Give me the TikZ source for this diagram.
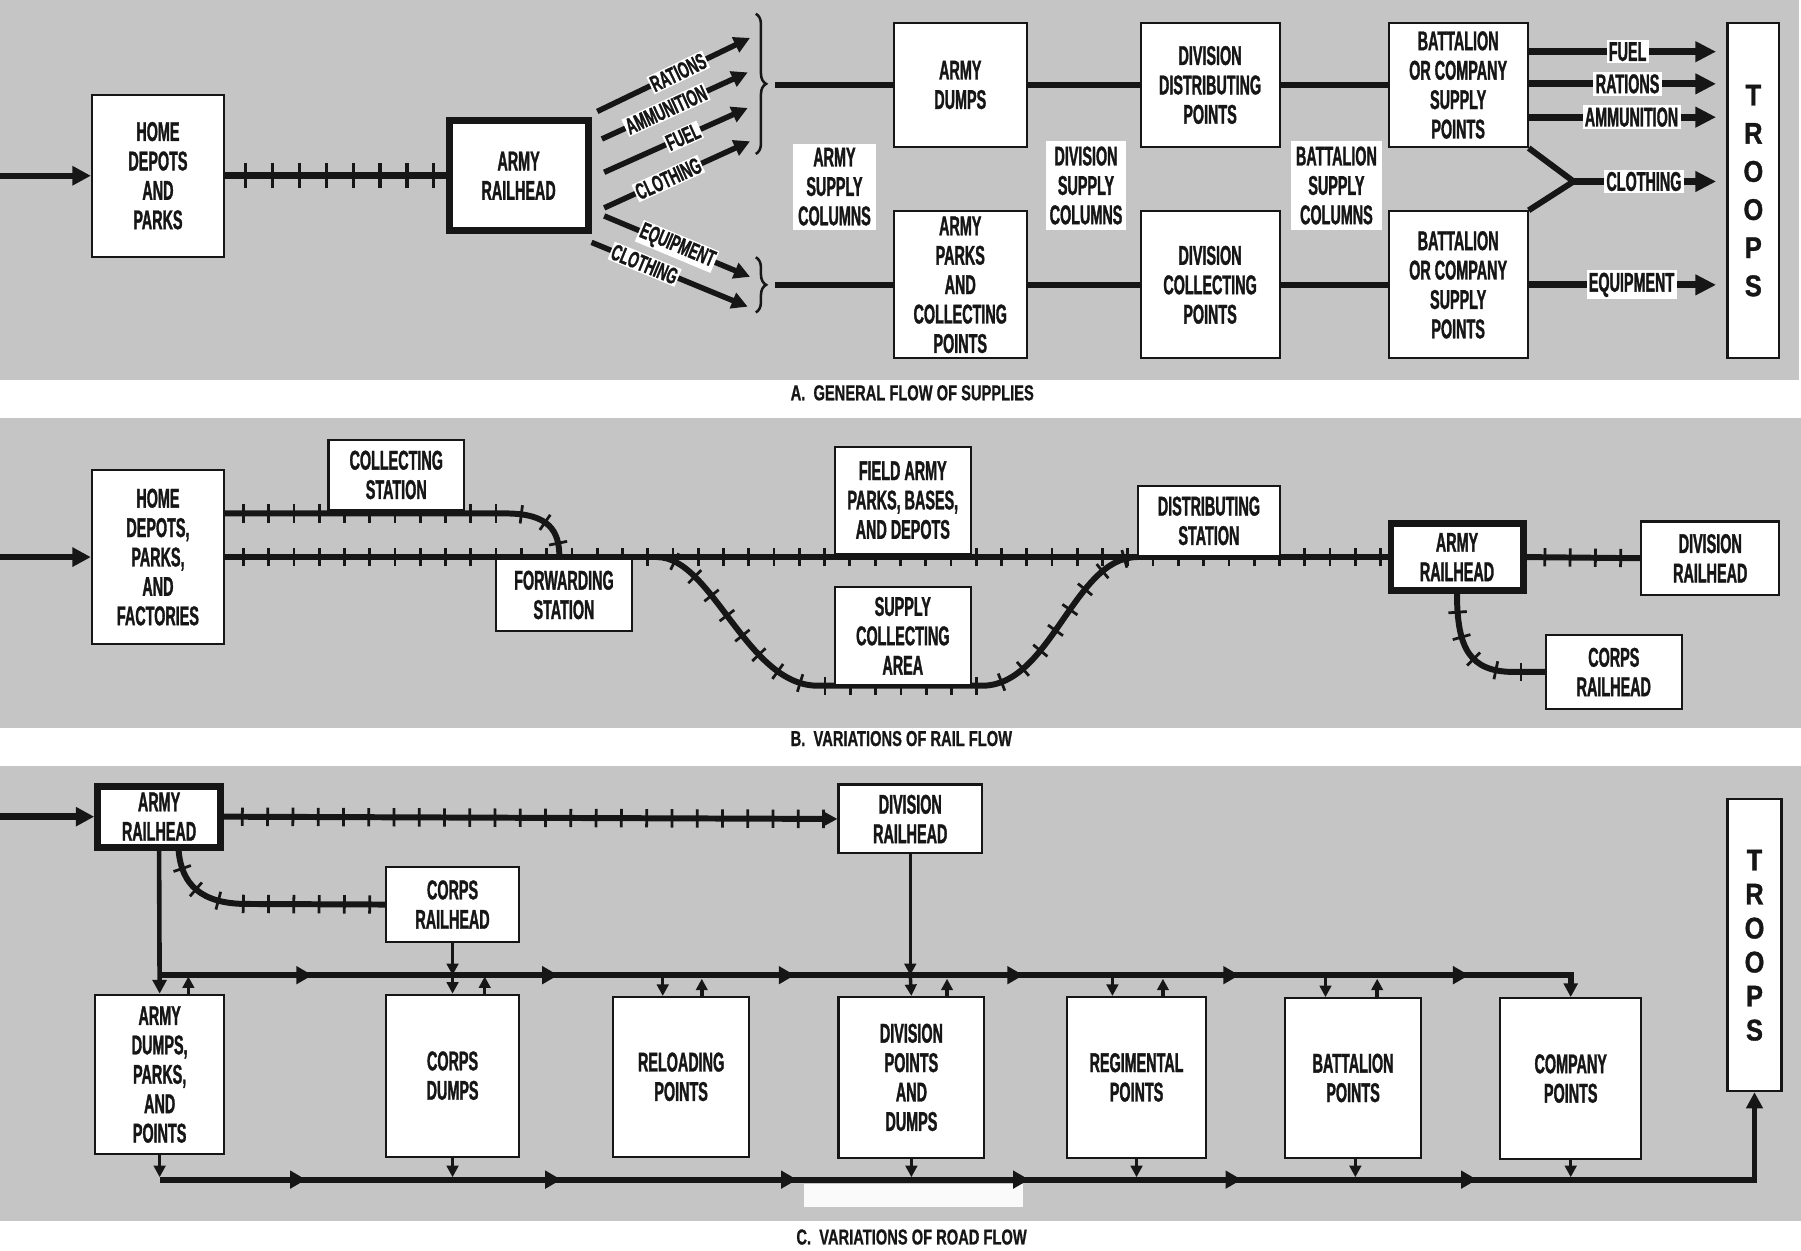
\documentclass[tikz,border=0pt]{standalone}
\usepackage{fontspec}
\newfontfamily\condfont{Liberation Sans}[FakeStretch=0.53, FakeBold=1.2]
\newfontfamily\diagfont{Liberation Sans}[FakeStretch=0.58, FakeBold=1.0]
\newfontfamily\capfont{Liberation Sans}[FakeStretch=0.68, FakeBold=0.8]
\newfontfamily\trpfont{Liberation Sans}[FakeStretch=0.85, FakeBold=1.2]
\usetikzlibrary{arrows.meta,decorations.markings,decorations.pathreplacing}
\definecolor{panelgray}{RGB}{197,197,197}
\definecolor{ink}{RGB}{22,22,22}
\pgfdeclarelayer{bg}
\pgfdeclarelayer{rails}
\pgfsetlayers{bg,rails,main}
\newcommand\bxfont{\condfont\bfseries\fontsize{11.8}{12.8}\selectfont}
\newcommand\dxfont{\diagfont\bfseries\fontsize{10}{12}\selectfont}
\newcommand\cxfont{\capfont\bfseries\fontsize{9.4}{10}\selectfont}
\newcommand\trAfont{\trpfont\bfseries\fontsize{13}{16.6}\selectfont}
\newcommand\trCfont{\trpfont\bfseries\fontsize{13}{14.8}\selectfont}
\newcommand\roadtip{\arrow{Triangle[length=7pt,width=7.5pt]}}
\tikzset{
  box/.style={draw=ink, line width=0.9pt, fill=white, align=center, font=\bxfont, inner sep=0pt, text=ink},
  tbox/.style={box, line width=3pt},
  lbl/.style={fill=white, align=center, font=\bxfont, inner sep=0pt, text=ink},
  olbl/.style={fill=white, font=\bxfont, inner sep=1pt, text=ink},
  dlbl/.style={fill=white, font=\dxfont, inner sep=0.6pt, sloped, text=ink},
  captxt/.style={font=\cxfont, anchor=west, inner sep=0pt, text=ink},
  conn/.style={draw=ink, line width=2.6pt},
  inarr/.style={draw=ink, line width=2.8pt, -{Triangle[length=8pt,width=8pt]}},
  outarr/.style={draw=ink, line width=3pt, -{Triangle[length=9pt,width=8.5pt]}, shorten >=4.5pt},
  diag/.style={draw=ink, line width=2.4pt, -{Triangle[length=7pt,width=7pt]}},
  brc/.style={draw=ink, line width=1.1pt, decorate, decoration={brace, amplitude=4.5pt}},
  railA/.style={draw=ink, line width=3.2pt, postaction={decorate, decoration={markings,
      mark=between positions 9pt and -3pt step 11.7pt with {\draw[-, draw=ink, line width=1.4pt] (0pt,-5.5pt) -- (0pt,5.5pt);}}}},
  rail/.style={draw=ink, line width=2.6pt, postaction={decorate, decoration={markings,
      mark=between positions 8pt and -3pt step 11pt with {\draw[-, draw=ink, line width=1.2pt] (0pt,-4pt) -- (0pt,4pt);}}}},
  road/.style={draw=ink, line width=2.6pt},
  vroad/.style={draw=ink, line width=2pt, -{Triangle[length=6pt,width=6pt]}},
  smallarr/.style={draw=ink, line width=1.5pt, -{Triangle[length=5pt,width=5pt]}},
}
\begin{document}
\begin{tikzpicture}[x=0.5pt,y=-0.5pt]
\useasboundingbox (0,0) rectangle (1568,1089);
% ---------------- backgrounds
\begin{pgfonlayer}{bg}
  \fill[white] (0,0) rectangle (1568,1089);
  \fill[panelgray] (0,0) rectangle (1566,331);
  \fill[panelgray] (0,364) rectangle (1568,634);
  \fill[panelgray] (0,667) rectangle (1568,1063);
  \fill[white!92!panelgray] (700,1031) rectangle (891,1051);
\end{pgfonlayer}

% ================= PANEL A =================
\node[box, minimum width=57.5pt, minimum height=70.5pt] (homeA) at (137.5,153) {HOME\\DEPOTS\\AND\\PARKS};
\node[tbox, minimum width=60.5pt, minimum height=48pt] (rhA) at (451.5,153) {ARMY\\RAILHEAD};
\node[box, minimum width=58pt, minimum height=54pt] (dumpsA) at (836,74) {ARMY\\DUMPS};
\node[box, minimum width=58pt, minimum height=64pt] (parksA) at (836,248) {ARMY\\PARKS\\AND\\COLLECTING\\POINTS};
\node[box, minimum width=60.5pt, minimum height=54pt] (ddpA) at (1053.5,74) {DIVISION\\DISTRIBUTING\\POINTS};
\node[box, minimum width=60.5pt, minimum height=64pt] (dcpA) at (1053.5,248) {DIVISION\\COLLECTING\\POINTS};
\node[box, minimum width=60.5pt, minimum height=54pt] (batA1) at (1269.5,74) {BATTALION\\OR COMPANY\\SUPPLY\\POINTS};
\node[box, minimum width=60.5pt, minimum height=64pt] (batA2) at (1269.5,248) {BATTALION\\OR COMPANY\\SUPPLY\\POINTS};
\node[box, minimum width=22.5pt, minimum height=146pt, font=\trAfont] (troopsA) at (1526.5,166) {T\\R\\O\\O\\P\\S};
\node[lbl, minimum width=36.5pt, minimum height=37.5pt] (ascA) at (726.5,162.5) {ARMY\\SUPPLY\\COLUMNS};
\node[lbl, minimum width=34.5pt, minimum height=38.5pt] (dscA) at (945.5,161.5) {DIVISION\\SUPPLY\\COLUMNS};
\node[lbl, minimum width=39.5pt, minimum height=38.5pt] (bscA) at (1163.5,161.5) {BATTALION\\SUPPLY\\COLUMNS};

\coordinate (inA) at (0,153);
\draw[inarr] (inA) -- (homeA.west);
\begin{pgfonlayer}{rails}
  \draw[railA] (homeA.east) -- (rhA.west);
\end{pgfonlayer}

% diagonal arrows
\coordinate (d1s) at (520,97);  \coordinate (d1e) at (653,33);
\coordinate (d2s) at (524,121); \coordinate (d2e) at (651,63);
\coordinate (d3s) at (526,150); \coordinate (d3e) at (651,94);
\coordinate (d4s) at (526,181); \coordinate (d4e) at (653,123);
\coordinate (d5s) at (526,188); \coordinate (d5e) at (653,241);
\coordinate (d6s) at (515,211); \coordinate (d6e) at (651,267);
\draw[diag] (d1s) -- node[dlbl, pos=0.53] {RATIONS} (d1e);
\draw[diag] (d2s) -- node[dlbl, pos=0.44] {AMMUNITION} (d2e);
\draw[diag] (d3s) -- node[dlbl, pos=0.55] {FUEL} (d3e);
\draw[diag] (d4s) -- node[dlbl, pos=0.44] {CLOTHING} (d4e);
\draw[diag] (d5s) -- node[dlbl, pos=0.5] {EQUIPMENT} (d5e);
\draw[diag] (d6s) -- node[dlbl, pos=0.34] {CLOTHING} (d6e);

% braces
\coordinate (b1a) at (658,12);  \coordinate (b1b) at (658,134);
\coordinate (b2a) at (658,224); \coordinate (b2b) at (658,272);
\draw[brc] (b1a) -- (b1b);
\draw[brc] (b2a) -- (b2b);
\coordinate (brT) at (675,74);
\coordinate (brB) at (675,248);

% supply lines
\draw[conn] (brT) -- (dumpsA.west);
\draw[conn] (dumpsA.east) -- (ddpA.west);
\draw[conn] (ddpA.east) -- (batA1.west);
\draw[conn] (brB) -- (parksA.west);
\draw[conn] (parksA.east) -- (dcpA.west);
\draw[conn] (dcpA.east) -- (batA2.west);

% to troops
\coordinate (yF) at (0,45);
\coordinate (yR) at (0,73);
\coordinate (yAm) at (0,102);
\coordinate (fk) at (1370,158);
\draw[outarr] (batA1.east |- yF) -- node[olbl, pos=0.5] {FUEL} (troopsA.west |- yF);
\draw[outarr] (batA1.east |- yR) -- node[olbl, pos=0.5] {RATIONS} (troopsA.west |- yR);
\draw[outarr] (batA1.east |- yAm) -- node[olbl, pos=0.52] {AMMUNITION} (troopsA.west |- yAm);
\draw[conn, line join=miter] (batA1.south east) -- (fk) -- (batA2.north east);
\draw[outarr] (fk) -- node[olbl, pos=0.46] {CLOTHING} (troopsA.west |- fk);
\draw[outarr] (batA2.east) -- node[olbl, pos=0.52] {EQUIPMENT} (troopsA.west |- batA2.east);

\node[captxt] (capA) at (688,342) {A.\ \ GENERAL FLOW OF SUPPLIES};

% ================= PANEL B =================
\node[box, minimum width=57.5pt, minimum height=76pt] (homeB) at (137.5,485) {HOME\\DEPOTS,\\PARKS,\\AND\\FACTORIES};
\node[box, minimum width=59pt, minimum height=30.5pt] (colB) at (345,413.5) {COLLECTING\\STATION};
\node[box, minimum width=59pt, minimum height=31pt] (fwdB) at (491,518) {FORWARDING\\STATION};
\node[box, minimum width=59pt, minimum height=46.5pt] (fieldB) at (786,435.5) {FIELD ARMY\\PARKS, BASES,\\AND DEPOTS};
\node[box, minimum width=59pt, minimum height=42.5pt] (supB) at (786,553.5) {SUPPLY\\COLLECTING\\AREA};
\node[box, minimum width=61.5pt, minimum height=30.5pt] (distB) at (1052.5,453.5) {DISTRIBUTING\\STATION};
\node[tbox, minimum width=57.5pt, minimum height=29pt] (rhB) at (1268.5,485) {ARMY\\RAILHEAD};
\node[box, minimum width=60pt, minimum height=32pt] (divB) at (1489,486) {DIVISION\\RAILHEAD};
\node[box, minimum width=59pt, minimum height=32pt] (corpsB) at (1405,585) {CORPS\\RAILHEAD};

\coordinate (inB) at (0,485);
\draw[inarr] (inB) -- (homeB.west);
\coordinate (ub0) at (0,447);
\coordinate (ub1) at (440,447);
\coordinate (ubJ) at (487,485);
\coordinate (lp1) at (572,485);
\coordinate (lp2) at (712,597);
\coordinate (lp3) at (855,597);
\coordinate (lp4) at (990,485);
\coordinate (cb1) at (1318,585);
\begin{pgfonlayer}{rails}
  \draw[rail] (homeB.east) -- (rhB.west);
  \draw[rail] (homeB.east |- ub0) -- (ub1) .. controls (478,447) and (487,462) .. (ubJ);
  \draw[rail] (lp1) .. controls (620,485) and (650,597) .. (lp2) -- (lp3) .. controls (915,597) and (935,485) .. (lp4);
  \draw[rail] (rhB.east) -- (divB.west);
  \draw[rail] (rhB.south) .. controls (1268.5,565) and (1280,585) .. (cb1) -- (corpsB.west);
\end{pgfonlayer}

\node[captxt] (capB) at (688,643) {B.\ \ VARIATIONS OF RAIL FLOW};

% ================= PANEL C =================
\node[tbox, minimum width=53.5pt, minimum height=26.5pt] (rhC) at (138.5,711) {ARMY\\RAILHEAD};
\node[box, minimum width=62.5pt, minimum height=30pt] (divrhC) at (792.5,713) {DIVISION\\RAILHEAD};
\node[box, minimum width=58pt, minimum height=32.5pt] (corpsrhC) at (394,787.5) {CORPS\\RAILHEAD};
\node[box, minimum width=56pt, minimum height=69.5pt] (armyC) at (139,935.5) {ARMY\\DUMPS,\\PARKS,\\AND\\POINTS};
\node[box, minimum width=58pt, minimum height=70.5pt] (corpsC) at (394,936.5) {CORPS\\DUMPS};
\node[box, minimum width=59pt, minimum height=69.5pt] (relC) at (593,937.5) {RELOADING\\POINTS};
\node[box, minimum width=63.5pt, minimum height=70pt] (divC) at (793.5,938) {DIVISION\\POINTS\\AND\\DUMPS};
\node[box, minimum width=60.5pt, minimum height=70pt] (regC) at (989.5,938) {REGIMENTAL\\POINTS};
\node[box, minimum width=59pt, minimum height=69.5pt] (batC) at (1178,938.5) {BATTALION\\POINTS};
\node[box, minimum width=61.5pt, minimum height=70pt] (compC) at (1367.5,939) {COMPANY\\POINTS};
\node[box, minimum width=23.5pt, minimum height=127pt, font=\trCfont] (troopsC) at (1527.5,823) {T\\R\\O\\O\\P\\S};

\coordinate (inC) at (0,711);
\draw[inarr] (inC) -- (rhC.west);
\coordinate (cc1) at (215,787);
\begin{pgfonlayer}{rails}
  \draw[rail, -{Triangle[length=6pt,width=6pt]}] (rhC.east) -- (divrhC.west);
  \draw[rail] ([xshift=8.5pt]rhC.south) .. controls (158,770) and (175,787) .. (cc1) -- (corpsrhC.west);
\end{pgfonlayer}

% roads
\coordinate (tr0) at (138.5,849);
\coordinate (br0) at (139,1027);
\draw[road, -{Triangle[length=6pt,width=6pt]}, postaction={decorate, decoration={markings,
   mark=at position 66.75pt with {\roadtip},
   mark=at position 173.75pt with {\roadtip},
   mark=at position 276.75pt with {\roadtip},
   mark=at position 376.25pt with {\roadtip},
   mark=at position 470.25pt with {\roadtip},
   mark=at position 570.25pt with {\roadtip}}}]
   (tr0) -- (tr0 -| compC.north) -- (compC.north);
\draw[road, -{Triangle[length=7pt,width=7pt]}, postaction={decorate, decoration={markings,
   mark=at position 63.75pt with {\roadtip},
   mark=at position 174.8pt with {\roadtip},
   mark=at position 277.5pt with {\roadtip},
   mark=at position 378.5pt with {\roadtip},
   mark=at position 471pt with {\roadtip},
   mark=at position 573.5pt with {\roadtip}}}]
   (br0) -- (br0 -| troopsC.south) -- (troopsC.south);

% vertical feeds
\draw[vroad] (rhC.south) -- (armyC.north);
\draw[smallarr] (corpsrhC.south) -- (corpsrhC.south |- tr0);
\draw[smallarr] (corpsrhC.south |- tr0) -- (corpsC.north);
\draw[smallarr] (divrhC.south) -- (divrhC.south |- tr0);
\draw[smallarr] (divrhC.south |- tr0) -- (divC.north);

% small arrows, top road
\draw[smallarr] ([xshift=12.5pt]armyC.north) -- ([xshift=12.5pt,yshift=7.5pt]armyC.north);
\draw[smallarr] ([xshift=14pt]corpsC.north) -- ([xshift=14pt,yshift=7.5pt]corpsC.north);
\draw[smallarr] ([xshift=-8pt,yshift=9.5pt]relC.north) -- ([xshift=-8pt]relC.north);
\draw[smallarr] ([xshift=9pt]relC.north) -- ([xshift=9pt,yshift=7.5pt]relC.north);
\draw[smallarr] ([xshift=15.5pt]divC.north) -- ([xshift=15.5pt,yshift=7.5pt]divC.north);
\draw[smallarr] ([xshift=-10.5pt,yshift=9.5pt]regC.north) -- ([xshift=-10.5pt]regC.north);
\draw[smallarr] ([xshift=11.5pt]regC.north) -- ([xshift=11.5pt,yshift=7.5pt]regC.north);
\draw[smallarr] ([xshift=-12pt,yshift=10pt]batC.north) -- ([xshift=-12pt]batC.north);
\draw[smallarr] ([xshift=10.5pt]batC.north) -- ([xshift=10.5pt,yshift=8pt]batC.north);

% small arrows, bottom road
\draw[smallarr] (armyC.south) -- ([yshift=-9.5pt]armyC.south);
\draw[smallarr] (corpsC.south) -- ([yshift=-8.5pt]corpsC.south);
\draw[smallarr] (divC.south) -- ([yshift=-8pt]divC.south);
\draw[smallarr] (regC.south) -- ([yshift=-8pt]regC.south);
\draw[smallarr] ([xshift=1pt]batC.south) -- ([xshift=1pt,yshift=-8pt]batC.south);
\draw[smallarr] (compC.south) -- ([yshift=-7.5pt]compC.south);

\node[captxt] (capC) at (693,1077) {C.\ \ VARIATIONS OF ROAD FLOW};
\end{tikzpicture}
\end{document}
